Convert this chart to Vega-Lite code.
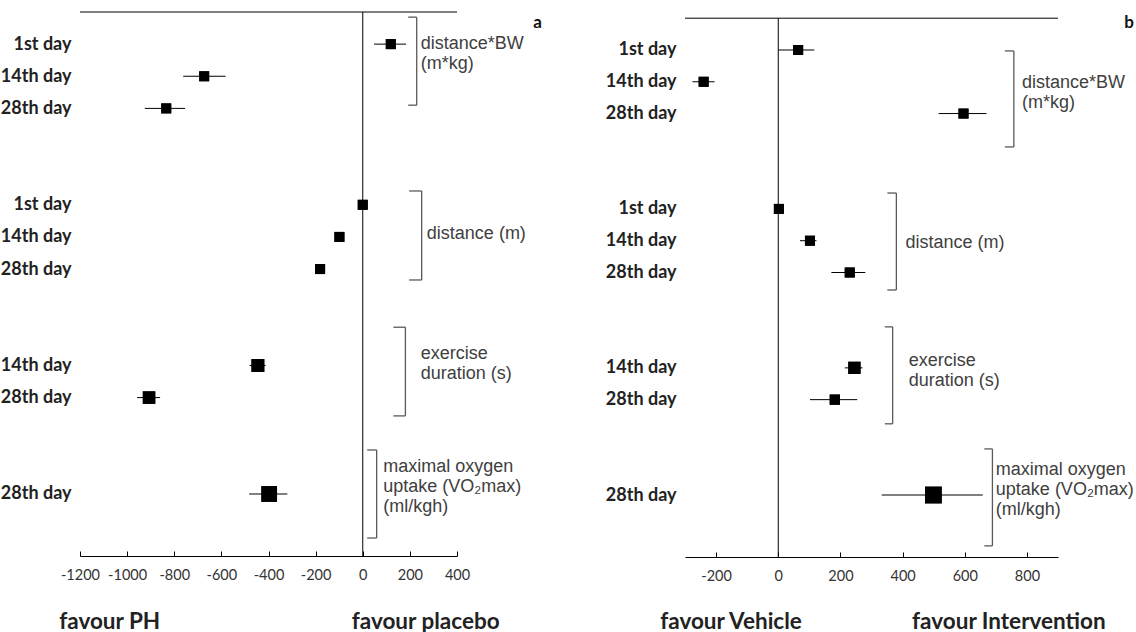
{
  "$schema": "https://vega.github.io/schema/vega-lite/v6.json",
  "padding": {"top": 11, "left": 0, "right": 0, "bottom": 0},
  "background": "white",
  "config": {"view": {"stroke": null}, "axis": {"grid": false}, "font": "Lato"},
  "datasets": {
    "a_est": [
      {"row": 0, "est": 119, "lo": 48, "hi": 184, "w": 1},
      {"row": 1, "est": -673, "lo": -762, "hi": -582, "w": 1},
      {"row": 2, "est": -834, "lo": -925, "hi": -754, "w": 1},
      {"row": 5, "est": 0, "lo": 0, "hi": 0, "w": 1},
      {"row": 6, "est": -99, "lo": -115, "hi": -85, "w": 1},
      {"row": 7, "est": -181, "lo": -181, "hi": -181, "w": 1},
      {"row": 10, "est": -445, "lo": -480, "hi": -412, "w": 1.65},
      {"row": 11, "est": -907, "lo": -958, "hi": -860, "w": 1.55},
      {"row": 14, "est": -397, "lo": -482, "hi": -320, "w": 2.45}
    ],
    "b_est": [
      {"row": 0, "est": 64, "lo": 0, "hi": 116, "w": 1},
      {"row": 1, "est": -240, "lo": -276, "hi": -205, "w": 1},
      {"row": 2, "est": 596, "lo": 516, "hi": 670, "w": 1},
      {"row": 5, "est": 2, "lo": 2, "hi": 2, "w": 1},
      {"row": 6, "est": 102, "lo": 70, "hi": 123, "w": 1},
      {"row": 7, "est": 230, "lo": 171, "hi": 280, "w": 1},
      {"row": 10, "est": 245, "lo": 214, "hi": 271, "w": 1.5},
      {"row": 11, "est": 182, "lo": 102, "hi": 254, "w": 1.05},
      {"row": 14, "est": 499, "lo": 333, "hi": 658, "w": 2.8}
    ],
    "a_brk": [
      {"x": 229, "xh": 193, "top": -0.84, "bot": 1.9},
      {"x": 250, "xh": 197, "top": 4.57, "bot": 7.34},
      {"x": 181, "xh": 130, "top": 8.81, "bot": 11.57},
      {"x": 59, "xh": 19, "top": 12.63, "bot": 15.37}
    ],
    "b_brk": [
      {"x": 758, "xh": 729, "top": 0.03, "bot": 3.05},
      {"x": 380, "xh": 351, "top": 4.5, "bot": 7.55},
      {"x": 368, "xh": 343, "top": 8.71, "bot": 11.76},
      {"x": 689, "xh": 663, "top": 12.55, "bot": 15.6}
    ],
    "a_txt": [
      {"x": 246, "y": 0.0, "lines": ["distance*BW", "(m*kg)"]},
      {"x": 272, "y": 5.91, "lines": ["distance (m)"]},
      {"x": 246, "y": 9.65, "lines": ["exercise", "duration (s)"]},
      {"x": 87, "y": 13.16, "lines": ["maximal oxygen", "uptake (VO₂max)", "(ml/kgh)"]}
    ],
    "b_txt": [
      {"x": 784, "y": 1.04, "lines": ["distance*BW", "(m*kg)"]},
      {"x": 409, "y": 6.07, "lines": ["distance (m)"]},
      {"x": 420, "y": 9.78, "lines": ["exercise", "duration (s)"]},
      {"x": 700, "y": 13.21, "lines": ["maximal oxygen", "uptake (VO₂max)", "(ml/kgh)"]}
    ],
    "a_fav": [
      {"x": -1074, "y": 17.98, "t": "favour PH"},
      {"x": 267, "y": 17.98, "t": "favour placebo"}
    ],
    "b_fav": [
      {"x": -152, "y": 17.99, "t": "favour Vehicle"},
      {"x": 742, "y": 17.99, "t": "favour Intervention"}
    ],
    "a_tag": [{"x": 742, "y": -0.65, "t": "a"}],
    "b_tag": [{"x": 1129, "y": -0.85, "t": "b"}]
  },
  "hconcat": [
    {
      "width": 377,
      "height": 544,
      "layer": [
        {
          "data": {"name": "a_est"},
          "mark": {"type": "square", "filled": true, "color": "#000", "opacity": 1},
          "encoding": {
            "x": {"field": "est", "type": "quantitative", "scale": {"domain": [-1200, 400], "nice": false, "zero": false},
              "axis": {"orient": "bottom", "values": [-1200, -1000, -800, -600, -400, -200, 0, 200, 400], "labelExpr": "datum.value + ''", "title": null, "grid": false, "domainColor": "#000", "domainWidth": 1, "tickColor": "#000", "tickSize": -5, "labelPadding": 17, "labelFont": "Lato", "labelFontSize": 14.5, "labelColor": "#333", "labelFlush": false, "labelOverlap": false}},
            "y": {"field": "row", "type": "quantitative", "scale": {"domain": [-1, 15.93], "reverse": true, "nice": false, "zero": false},
              "axis": {"values": [0, 1, 2, 5, 6, 7, 10, 11, 14], "labelExpr": "indexof([0,5], datum.value) >= 0 ? '1st day' : (indexof([1,6,10], datum.value) >= 0 ? '14th day' : '28th day')", "title": null, "grid": false, "domain": false, "ticks": false, "labelPadding": 9, "labelFont": "Lato", "labelFontWeight": "bold", "labelFontSize": 18, "labelColor": "#222"}},
            "size": {"field": "w", "type": "quantitative", "scale": {"type": "linear", "domain": [0, 1], "range": [0, 100]}, "legend": null}
          }
        },
        {
          "data": {"values": [{}]},
          "mark": {"type": "rule", "color": "#000", "strokeWidth": 1},
          "encoding": {"y": {"datum": -1, "type": "quantitative", "scale": {"domain": [-1, 15.93], "reverse": true, "nice": false, "zero": false}}}
        },
        {
          "data": {"values": [{}]},
          "mark": {"type": "rule", "color": "#000", "strokeWidth": 1},
          "encoding": {"x": {"datum": 0, "type": "quantitative", "scale": {"domain": [-1200, 400], "nice": false, "zero": false}}}
        },
        {
          "data": {"name": "a_est"},
          "mark": {"type": "rule", "color": "#000", "strokeWidth": 1},
          "encoding": {
            "x": {"field": "lo", "type": "quantitative", "scale": {"domain": [-1200, 400], "nice": false, "zero": false}},
            "x2": {"field": "hi"},
            "y": {"field": "row", "type": "quantitative", "scale": {"domain": [-1, 15.93], "reverse": true, "nice": false, "zero": false}}
          }
        },
        {
          "data": {"name": "a_est"},
          "mark": {"type": "square", "filled": true, "color": "#000", "opacity": 1},
          "encoding": {
            "x": {"field": "est", "type": "quantitative", "scale": {"domain": [-1200, 400], "nice": false, "zero": false}},
            "y": {"field": "row", "type": "quantitative", "scale": {"domain": [-1, 15.93], "reverse": true, "nice": false, "zero": false}},
            "size": {"field": "w", "type": "quantitative", "scale": {"type": "linear", "domain": [0, 1], "range": [0, 100]}, "legend": null}
          }
        },
        {
          "data": {"name": "a_brk"},
          "mark": {"type": "rule", "color": "#595959", "strokeWidth": 1.3},
          "encoding": {
            "x": {"field": "x", "type": "quantitative", "scale": {"domain": [-1200, 400], "nice": false, "zero": false}},
            "y": {"field": "top", "type": "quantitative", "scale": {"domain": [-1, 15.93], "reverse": true, "nice": false, "zero": false}},
            "y2": {"field": "bot"}
          }
        },
        {
          "data": {"name": "a_brk"},
          "mark": {"type": "rule", "color": "#595959", "strokeWidth": 1.3},
          "encoding": {
            "x": {"field": "xh", "type": "quantitative", "scale": {"domain": [-1200, 400], "nice": false, "zero": false}},
            "x2": {"field": "x"},
            "y": {"field": "top", "type": "quantitative", "scale": {"domain": [-1, 15.93], "reverse": true, "nice": false, "zero": false}}
          }
        },
        {
          "data": {"name": "a_brk"},
          "mark": {"type": "rule", "color": "#595959", "strokeWidth": 1.3},
          "encoding": {
            "x": {"field": "xh", "type": "quantitative", "scale": {"domain": [-1200, 400], "nice": false, "zero": false}},
            "x2": {"field": "x"},
            "y": {"field": "bot", "type": "quantitative", "scale": {"domain": [-1, 15.93], "reverse": true, "nice": false, "zero": false}}
          }
        },
        {
          "data": {"name": "a_txt"},
          "mark": {"type": "text", "align": "left", "baseline": "middle", "font": "Liberation Sans", "fontSize": 18, "lineHeight": 20, "color": "#404040"},
          "encoding": {
            "x": {"field": "x", "type": "quantitative", "scale": {"domain": [-1200, 400], "nice": false, "zero": false}},
            "y": {"field": "y", "type": "quantitative", "scale": {"domain": [-1, 15.93], "reverse": true, "nice": false, "zero": false}},
            "text": {"field": "lines"}
          }
        },
        {
          "data": {"name": "a_fav"},
          "mark": {"type": "text", "align": "center", "baseline": "middle", "font": "Lato", "fontWeight": "bold", "fontSize": 22.5, "color": "#222"},
          "encoding": {
            "x": {"field": "x", "type": "quantitative", "scale": {"domain": [-1200, 400], "nice": false, "zero": false}},
            "y": {"field": "y", "type": "quantitative", "scale": {"domain": [-1, 15.93], "reverse": true, "nice": false, "zero": false}},
            "text": {"field": "t"}
          }
        },
        {
          "data": {"name": "a_tag"},
          "mark": {"type": "text", "align": "center", "baseline": "middle", "font": "Lato", "fontWeight": "bold", "fontSize": 17, "color": "#111"},
          "encoding": {
            "x": {"field": "x", "type": "quantitative", "scale": {"domain": [-1200, 400], "nice": false, "zero": false}},
            "y": {"field": "y", "type": "quantitative", "scale": {"domain": [-1, 15.93], "reverse": true, "nice": false, "zero": false}},
            "text": {"field": "t"}
          }
        }
      ]
    },
    {
      "width": 373,
      "height": 545,
      "layer": [
        {
          "data": {"name": "b_est"},
          "mark": {"type": "square", "filled": true, "color": "#000", "opacity": 1},
          "encoding": {
            "x": {"field": "est", "type": "quantitative", "scale": {"domain": [-300, 900], "nice": false, "zero": false},
              "axis": {"orient": "bottom", "values": [-200, -100, 0, 100, 200, 300, 400, 500, 600, 700, 800], "labelExpr": "datum.value % 200 == 0 ? datum.value + '' : ''", "title": null, "grid": false, "domainColor": "#000", "domainWidth": 1, "tickColor": "#000", "tickSize": -5, "labelPadding": 17, "labelFont": "Lato", "labelFontSize": 14.5, "labelColor": "#333", "labelFlush": false, "labelOverlap": false}},
            "y": {"field": "row", "type": "quantitative", "scale": {"domain": [-1.195, 15.95], "reverse": true, "nice": false, "zero": false},
              "axis": {"values": [0, 1, 2, 5, 6, 7, 10, 11, 14], "labelExpr": "indexof([0,5], datum.value) >= 0 ? '1st day' : (indexof([1,6,10], datum.value) >= 0 ? '14th day' : '28th day')", "title": null, "grid": false, "domain": false, "ticks": false, "labelPadding": 9, "labelFont": "Lato", "labelFontWeight": "bold", "labelFontSize": 18, "labelColor": "#222"}},
            "size": {"field": "w", "type": "quantitative", "scale": {"type": "linear", "domain": [0, 1], "range": [0, 100]}, "legend": null}
          }
        },
        {
          "data": {"values": [{}]},
          "mark": {"type": "rule", "color": "#000", "strokeWidth": 1},
          "encoding": {"y": {"datum": -1, "type": "quantitative", "scale": {"domain": [-1.195, 15.95], "reverse": true, "nice": false, "zero": false}}}
        },
        {
          "data": {"values": [{"a": -1, "b": 15.95}]},
          "mark": {"type": "rule", "color": "#000", "strokeWidth": 1},
          "encoding": {
            "x": {"datum": 0, "type": "quantitative", "scale": {"domain": [-300, 900], "nice": false, "zero": false}},
            "y": {"field": "a", "type": "quantitative", "scale": {"domain": [-1.195, 15.95], "reverse": true, "nice": false, "zero": false}},
            "y2": {"field": "b"}
          }
        },
        {
          "data": {"name": "b_est"},
          "mark": {"type": "rule", "color": "#000", "strokeWidth": 1},
          "encoding": {
            "x": {"field": "lo", "type": "quantitative", "scale": {"domain": [-300, 900], "nice": false, "zero": false}},
            "x2": {"field": "hi"},
            "y": {"field": "row", "type": "quantitative", "scale": {"domain": [-1.195, 15.95], "reverse": true, "nice": false, "zero": false}}
          }
        },
        {
          "data": {"name": "b_est"},
          "mark": {"type": "square", "filled": true, "color": "#000", "opacity": 1},
          "encoding": {
            "x": {"field": "est", "type": "quantitative", "scale": {"domain": [-300, 900], "nice": false, "zero": false}},
            "y": {"field": "row", "type": "quantitative", "scale": {"domain": [-1.195, 15.95], "reverse": true, "nice": false, "zero": false}},
            "size": {"field": "w", "type": "quantitative", "scale": {"type": "linear", "domain": [0, 1], "range": [0, 100]}, "legend": null}
          }
        },
        {
          "data": {"name": "b_brk"},
          "mark": {"type": "rule", "color": "#595959", "strokeWidth": 1.3},
          "encoding": {
            "x": {"field": "x", "type": "quantitative", "scale": {"domain": [-300, 900], "nice": false, "zero": false}},
            "y": {"field": "top", "type": "quantitative", "scale": {"domain": [-1.195, 15.95], "reverse": true, "nice": false, "zero": false}},
            "y2": {"field": "bot"}
          }
        },
        {
          "data": {"name": "b_brk"},
          "mark": {"type": "rule", "color": "#595959", "strokeWidth": 1.3},
          "encoding": {
            "x": {"field": "xh", "type": "quantitative", "scale": {"domain": [-300, 900], "nice": false, "zero": false}},
            "x2": {"field": "x"},
            "y": {"field": "top", "type": "quantitative", "scale": {"domain": [-1.195, 15.95], "reverse": true, "nice": false, "zero": false}}
          }
        },
        {
          "data": {"name": "b_brk"},
          "mark": {"type": "rule", "color": "#595959", "strokeWidth": 1.3},
          "encoding": {
            "x": {"field": "xh", "type": "quantitative", "scale": {"domain": [-300, 900], "nice": false, "zero": false}},
            "x2": {"field": "x"},
            "y": {"field": "bot", "type": "quantitative", "scale": {"domain": [-1.195, 15.95], "reverse": true, "nice": false, "zero": false}}
          }
        },
        {
          "data": {"name": "b_txt"},
          "mark": {"type": "text", "align": "left", "baseline": "middle", "font": "Liberation Sans", "fontSize": 18, "lineHeight": 20, "color": "#404040"},
          "encoding": {
            "x": {"field": "x", "type": "quantitative", "scale": {"domain": [-300, 900], "nice": false, "zero": false}},
            "y": {"field": "y", "type": "quantitative", "scale": {"domain": [-1.195, 15.95], "reverse": true, "nice": false, "zero": false}},
            "text": {"field": "lines"}
          }
        },
        {
          "data": {"name": "b_fav"},
          "mark": {"type": "text", "align": "center", "baseline": "middle", "font": "Lato", "fontWeight": "bold", "fontSize": 22.5, "color": "#222"},
          "encoding": {
            "x": {"field": "x", "type": "quantitative", "scale": {"domain": [-300, 900], "nice": false, "zero": false}},
            "y": {"field": "y", "type": "quantitative", "scale": {"domain": [-1.195, 15.95], "reverse": true, "nice": false, "zero": false}},
            "text": {"field": "t"}
          }
        },
        {
          "data": {"name": "b_tag"},
          "mark": {"type": "text", "align": "center", "baseline": "middle", "font": "Lato", "fontWeight": "bold", "fontSize": 17, "color": "#111"},
          "encoding": {
            "x": {"field": "x", "type": "quantitative", "scale": {"domain": [-300, 900], "nice": false, "zero": false}},
            "y": {"field": "y", "type": "quantitative", "scale": {"domain": [-1.195, 15.95], "reverse": true, "nice": false, "zero": false}},
            "text": {"field": "t"}
          }
        }
      ]
    }
  ],
  "spacing": 63
}
